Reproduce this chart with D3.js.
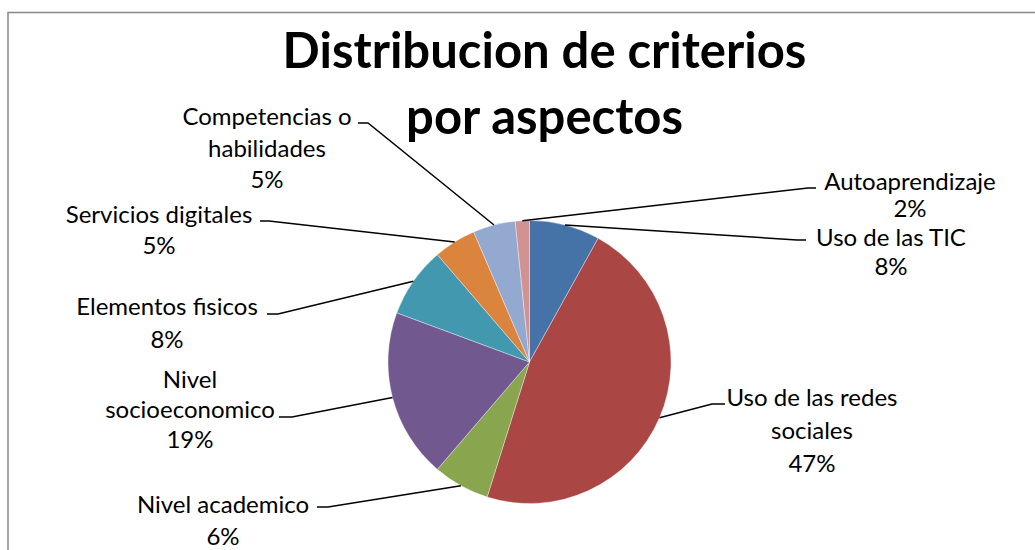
<!DOCTYPE html>
<html>
  <head>
    <meta charset="utf-8">
    <title>Distribucion de criterios por aspectos</title>
    <style>
      body { margin: 0; background: #fff; }
      text { font-family: Lato, "Open Sans", sans-serif; fill: #000; }
    </style>
  </head>
  <body>
    <div id="chart"></div>
    <script src="https://cdnjs.cloudflare.com/ajax/libs/d3/7.8.5/d3.min.js"></script>
    <script>

      // data (counts per aspect, shown as rounded percents)
      const categories = ['Uso de las TIC', 'Uso de las redes sociales', 'Nivel academico',
        'Nivel socioeconomico', 'Elementos fisicos', 'Servicios digitales',
        'Competencias o habilidades', 'Autoaprendizaje']
      const counts = [5, 29, 4, 12, 5, 3, 3, 1]
      const percentLabels = ['8%', '47%', '6%', '19%', '8%', '5%', '5%', '2%']
      const labelLines = [
        ['Uso de las TIC'],
        ['Uso de las redes', 'sociales'],
        ['Nivel academico'],
        ['Nivel', 'socioeconomico'],
        ['Elementos fisicos'],
        ['Servicios digitales'],
        ['Competencias o', 'habilidades'],
        ['Autoaprendizaje']
      ]
      const titleLines = ['Distribucion de criterios', 'por aspectos']

      const colors = ['#4572A7', '#AA4643', '#89A54E', '#71588F', '#4198AF', '#DB843D', '#93A9CF', '#D19392']

      // where each label sits (centre x, first line y) and where its leader starts
      const labelLayout = [
        { cx: 891, y: 238, gap: 29, lead: [806, 240, 797] },
        { cx: 812, y: 398, gap: 33, lead: [725, 404, 712] },
        { cx: 223, y: 505, gap: 32, lead: [317, 507, 328] },
        { cx: 190, y: 380, gap: 30, lead: [279, 417, 292] },
        { cx: 167, y: 307, gap: 33, lead: [267, 314, 278] },
        { cx: 159, y: 215, gap: 31, lead: [260, 221, 269] },
        { cx: 267, y: 117, gap: 31.5, lead: [358, 123, 368] },
        { cx: 910, y: 182, gap: 27, lead: [816, 188, 808] }
      ]

      const width = 1035
      const height = 550
      const cx = 529.5
      const cy = 362
      const radius = 141.5

      const svg = d3.select('#chart')
                    .append('svg')
                    .attr('width', width)
                    .attr('height', height)

      // chart area border (cut off at right and bottom, like the screenshot)
      svg.append('rect')
        .attr('x', 8)
        .attr('y', 12.5)
        .attr('width', 1100)
        .attr('height', 600)
        .attr('fill', 'none')
        .attr('stroke', '#878787')
        .attr('stroke-width', 1.5)

      svg.append('g')
        .selectAll('text')
        .data(titleLines)
        .enter()
        .append('text')
        .attr('x', 544.5)
        .attr('y', (d, i) => 68 + i * 66)
        .attr('text-anchor', 'middle')
        .style('font-size', '49px')
        .style('font-weight', 'bold')
        .text(d => d)

      const pie = d3.pie().sort(null).value(d => d)
      const arcs = pie(counts)

      const arc = d3.arc().innerRadius(0).outerRadius(radius)
      const edge = d3.arc().innerRadius(radius).outerRadius(radius)

      const g = svg.append('g').attr('transform', `translate(${cx},${cy})`)

      g.selectAll('path')
        .data(arcs)
        .enter()
        .append('path')
        .attr('d', arc)
        .attr('fill', (d, i) => colors[i])
        .attr('stroke', 'rgba(255,255,255,0.6)')
        .attr('stroke-width', 0.6)

      // leader lines: short horizontal piece at the label, then to the slice edge
      const leaders = svg.append('g')
      arcs.forEach((d, i) => {
        const l = labelLayout[i].lead
        const p = edge.centroid(d)
        leaders.append('path')
          .attr('d', d3.line()([[l[0], l[1]], [l[2], l[1]], [cx + p[0], cy + p[1]]]))
          .attr('fill', 'none')
          .attr('stroke', '#000')
          .attr('stroke-width', 1.5)
      })

      const labels = svg.append('g')
      arcs.forEach((d, i) => {
        const lay = labelLayout[i]
        const lines = labelLines[i].concat([percentLabels[i]])
        lines.forEach((t, j) => {
          labels.append('text')
            .attr('x', lay.cx)
            .attr('y', lay.y + j * lay.gap)
            .attr('dy', '0.35em')
            .attr('text-anchor', 'middle')
            .style('font-size', '24px')
            .text(t)
        })
      })

    </script>
  </body>
</html>
